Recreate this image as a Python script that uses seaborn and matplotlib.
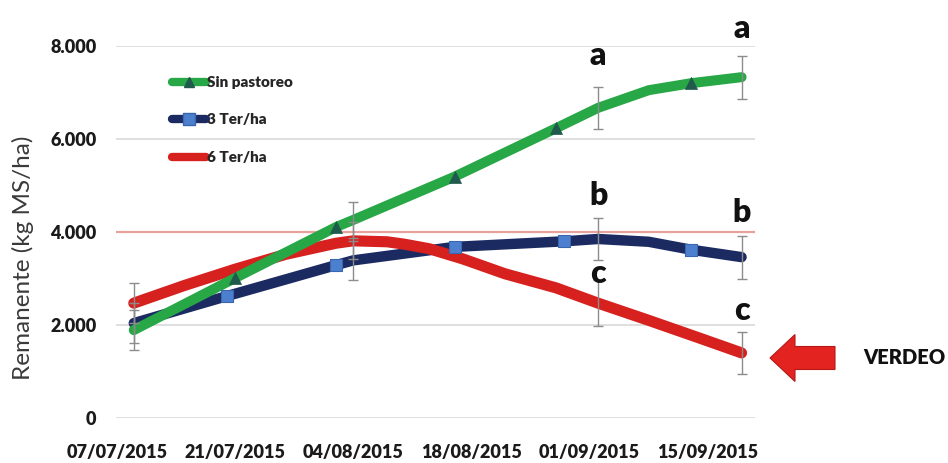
import matplotlib
matplotlib.use("Agg")
import matplotlib.pyplot as plt
import matplotlib.dates as mdates
from matplotlib.lines import Line2D
from matplotlib.patches import FancyArrow
import pandas as pd
import seaborn as sns

# =========================
# DATA (kg MS/ha)
# =========================
green_dates = ["2015-07-09", "2015-07-21", "2015-08-02", "2015-08-04", "2015-08-16",
               "2015-08-28", "2015-09-02", "2015-09-08", "2015-09-13", "2015-09-19"]
green_vals = [1890, 3010, 4110, 4260, 5190, 6230, 6670, 7050, 7200, 7330]
green_marker_dates = ["2015-07-21", "2015-08-02", "2015-08-16", "2015-08-28", "2015-09-13"]

blue_dates = ["2015-07-09", "2015-07-20", "2015-08-02", "2015-08-04", "2015-08-16",
              "2015-08-29", "2015-09-02", "2015-09-08", "2015-09-13", "2015-09-19"]
blue_vals = [2040, 2620, 3290, 3390, 3680, 3800, 3850, 3790, 3620, 3460]
blue_marker_dates = ["2015-07-20", "2015-08-02", "2015-08-16", "2015-08-29", "2015-09-13"]

red_dates = ["2015-07-09", "2015-07-15", "2015-07-21", "2015-07-27", "2015-08-02",
             "2015-08-04", "2015-08-08", "2015-08-10", "2015-08-13", "2015-08-17",
             "2015-08-22", "2015-08-28", "2015-09-02", "2015-09-08", "2015-09-14",
             "2015-09-19"]
red_vals = [2470, 2850, 3200, 3520, 3760, 3810, 3790, 3740, 3640, 3420,
            3100, 2800, 2470, 2100, 1720, 1400]

err_dates = ["2015-07-09", "2015-08-04", "2015-09-02", "2015-09-19"]
green_err = [430, 390, 450, 460]
blue_err = [430, 420, 450, 460]
red_err = [430, 400, 500, 460]

letter_dates = ["2015-09-02", "2015-09-02", "2015-09-02", "2015-09-19", "2015-09-19", "2015-09-19"]
letters = ["a", "b", "c", "a", "b", "c"]
letter_y = [7600, 4580, 2900, 8170, 4220, 2110]

series_names = ["Sin pastoreo", "3 Ter/ha", "6 Ter/ha"]
tick_dates = ["2015-07-07", "2015-07-21", "2015-08-04", "2015-08-18", "2015-09-01", "2015-09-15"]
y_ticks = [0, 2000, 4000, 6000, 8000]
y_tick_labels = ["0", "2.000", "4.000", "6.000", "8.000"]
ref_level = 4000

# =========================
# STYLE
# =========================
sns.set_style("white")
FONT = ["Lato", "DejaVu Sans"]
plt.rcParams["font.family"] = FONT

GREEN = "#27A745"
NAVY = "#1C2A62"
RED = "#D7211F"
GREY = "#8C8C8C"

fig = plt.figure(figsize=(9.48, 4.63), dpi=100)
ax = fig.add_axes([0.1224, 0.0972, 0.6741, 0.8034])

def frame(dates, vals):
    return pd.DataFrame({"fecha": pd.to_datetime(dates), "kg": vals})

df_g = frame(green_dates, green_vals)
df_b = frame(blue_dates, blue_vals)
df_r = frame(red_dates, red_vals)

# grid + reference line
for yv in y_ticks:
    if yv != ref_level:
        ax.axhline(yv, color="#D9D9D9", lw=1.2, zorder=0)
ax.axhline(ref_level, color="#E8A29C", lw=1.6, zorder=1)

# lines (blue under red under green)
sns.lineplot(data=df_b, x="fecha", y="kg", ax=ax, color=NAVY, lw=7.5, zorder=2,
             solid_capstyle="round")
sns.lineplot(data=df_r, x="fecha", y="kg", ax=ax, color=RED, lw=8.0, zorder=3,
             solid_capstyle="round")
sns.lineplot(data=df_g, x="fecha", y="kg", ax=ax, color=GREEN, lw=7.2, zorder=4,
             solid_capstyle="round")

# markers
gm = df_g[df_g["fecha"].isin(pd.to_datetime(green_marker_dates))]
bm = df_b[df_b["fecha"].isin(pd.to_datetime(blue_marker_dates))]
sns.scatterplot(data=bm, x="fecha", y="kg", ax=ax, marker="s", s=85, color="#4C80CF",
                edgecolor="#3A66B0", linewidth=0.8, zorder=5)
sns.scatterplot(data=gm, x="fecha", y="kg", ax=ax, marker="^", s=75, color="#1F5A4C",
                edgecolor="#1F5A4C", linewidth=0.5, zorder=5)

# error bars
ed = pd.to_datetime(err_dates)
for df, err in [(df_g, green_err), (df_b, blue_err), (df_r, red_err)]:
    centers = df.set_index("fecha").loc[ed, "kg"].values
    ax.errorbar(ed, centers, yerr=err, fmt="none", ecolor=GREY, elinewidth=1.0,
                capsize=3.5, capthick=1.0, zorder=6)

# significance letters
for d, t, yv in zip(letter_dates, letters, letter_y):
    ax.text(pd.to_datetime(d), yv, t, ha="center", va="baseline", fontsize=23,
            fontweight="heavy", color="#111111", clip_on=False, zorder=7)

# axes
x0 = mdates.date2num(pd.Timestamp("2015-07-07"))
ax.set_xlim(x0 - 0.1, x0 + 75.6)
ax.set_ylim(0, 8000)
ax.set_xticks(pd.to_datetime(tick_dates))
ax.xaxis.set_major_formatter(mdates.DateFormatter("%d/%m/%Y"))
ax.set_yticks(y_ticks)
ax.set_yticklabels(y_tick_labels)
ax.tick_params(axis="x", length=0, pad=19, labelsize=13, colors="#1A1A1A")
ax.tick_params(axis="y", length=0, pad=14, labelsize=13, colors="#1A1A1A")
for lab in ax.get_xticklabels() + ax.get_yticklabels():
    lab.set_fontweight("heavy")
for s in ax.spines.values():
    s.set_visible(False)
ax.set_xlabel("")
ax.set_ylabel("Remanente (kg MS/ha)", fontsize=17.5, color="#3A3A3A")
ax.yaxis.set_label_coords(-0.128, 0.43)

# legend
handles = [
    Line2D([], [], color=GREEN, lw=6, marker="^", markersize=7, markerfacecolor="#1F5A4C",
           markeredgecolor="#1F5A4C"),
    Line2D([], [], color=NAVY, lw=6, marker="s", markersize=8, markerfacecolor="#4C80CF",
           markeredgecolor="#3A66B0"),
    Line2D([], [], color=RED, lw=6),
]
leg = fig.legend(handles, series_names, loc="upper left",
                 bbox_to_anchor=(172 / 948, 1 - 76 / 463), frameon=False,
                 borderpad=0, borderaxespad=0, handlelength=2.2, handletextpad=0.1,
                 labelspacing=1.6, prop={"family": FONT, "weight": "heavy", "size": 11})

# VERDEO arrow
fig.patches.append(FancyArrow(835 / 948, 1 - 358 / 463, -65 / 948, 0, width=23 / 463,
                              head_width=47 / 463, head_length=25 / 948,
                              length_includes_head=True, transform=fig.transFigure,
                              facecolor="#E2231F", edgecolor="#B51A17", lw=0.8))
fig.text(863 / 948, 1 - 358 / 463, "VERDEO", ha="left", va="center", fontsize=14.5,
         fontweight="heavy", color="#111111")

plt.savefig("out.png", dpi=100)
